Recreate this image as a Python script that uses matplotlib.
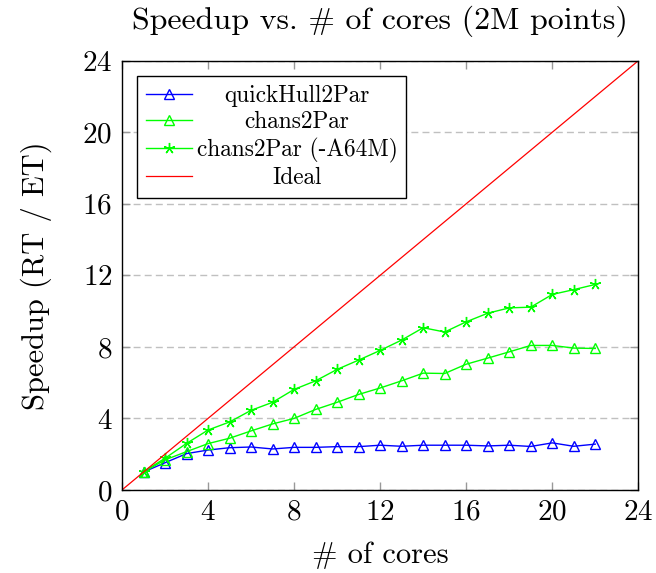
import matplotlib
matplotlib.use('Agg')
import matplotlib.pyplot as plt

plt.rcParams['font.family'] = 'serif'
plt.rcParams['font.serif'] = ['cmr10']
plt.rcParams['mathtext.fontset'] = 'cm'
plt.rcParams['axes.formatter.use_mathtext'] = True

# data
cores = list(range(1, 23))
quickhull = [1.0, 1.52, 2.03, 2.23, 2.36, 2.4, 2.29, 2.38, 2.38, 2.42, 2.42, 2.5,
             2.44, 2.5, 2.5, 2.5, 2.46, 2.5, 2.43, 2.63, 2.44, 2.56]
chans = [1.0, 1.68, 2.14, 2.59, 2.89, 3.3, 3.69, 4.0, 4.5, 4.9, 5.34, 5.7,
         6.1, 6.53, 6.51, 7.03, 7.37, 7.72, 8.08, 8.08, 7.93, 7.91]
chans_a64m = [1.02, 1.77, 2.6, 3.35, 3.8, 4.45, 4.9, 5.62, 6.1, 6.74, 7.26, 7.8,
              8.38, 9.07, 8.83, 9.4, 9.88, 10.18, 10.22, 10.93, 11.2, 11.49]
ideal_x = [0, 24]
ideal_y = [0, 24]
ticks = [0, 4, 8, 12, 16, 20, 24]

fig = plt.figure(figsize=(6.56, 5.73), dpi=100)
ax = fig.add_axes([0.186, 0.145, 0.787, 0.749])

ax.plot(cores, quickhull, color='#0000ff', lw=1.0, marker='^', ms=7,
        mfc='none', mew=1.0, label='quickHull2Par')
ax.plot(cores, chans, color='#00ff00', lw=1.0, marker='^', ms=7,
        mfc='none', mew=1.0, label='chans2Par')
ax.plot(cores, chans_a64m, color='#00ff00', lw=1.0, marker=(5, 2, 0), ms=8,
        mew=1.0, label='chans2Par (-A64M)')
ax.plot(ideal_x, ideal_y, color='#ff0000', lw=0.9, label='Ideal')

ax.set_xlim(0, 24)
ax.set_ylim(0, 24)
ax.set_xticks(ticks)
ax.set_yticks(ticks)
ax.tick_params(direction='in', length=6, width=1, color='#999999',
               top=True, right=True, labelsize=21, pad=7)
for s in ax.spines.values():
    s.set_linewidth(1.0)
ax.yaxis.grid(True, color='#c0c0c0', lw=1.0, ls=(0, (5, 3)))
ax.set_axisbelow(True)

ax.set_xlabel('# of cores', fontsize=22, labelpad=11)
ax.set_ylabel('Speedup (RT / ET)', fontsize=22, labelpad=22)
ax.set_title('Speedup vs. # of cores (2M points)', fontsize=23, pad=23)

leg = ax.legend(loc='upper left', fontsize=16.8, frameon=True, fancybox=False,
                edgecolor='black', framealpha=1, borderpad=0.38,
                handlelength=1.95, handletextpad=0.22, labelspacing=0.18,
                numpoints=1, borderaxespad=0.65)
leg.get_frame().set_linewidth(1.0)

# pgfplots centers the legend entries
fig.canvas.draw()
texts = leg.get_texts()
widths = [t.get_window_extent().width for t in texts]
wmax = max(widths)
for t, w in zip(texts, widths):
    t.set_position(((wmax - w) / 2, 0))

fig.savefig('out.png', dpi=100)
